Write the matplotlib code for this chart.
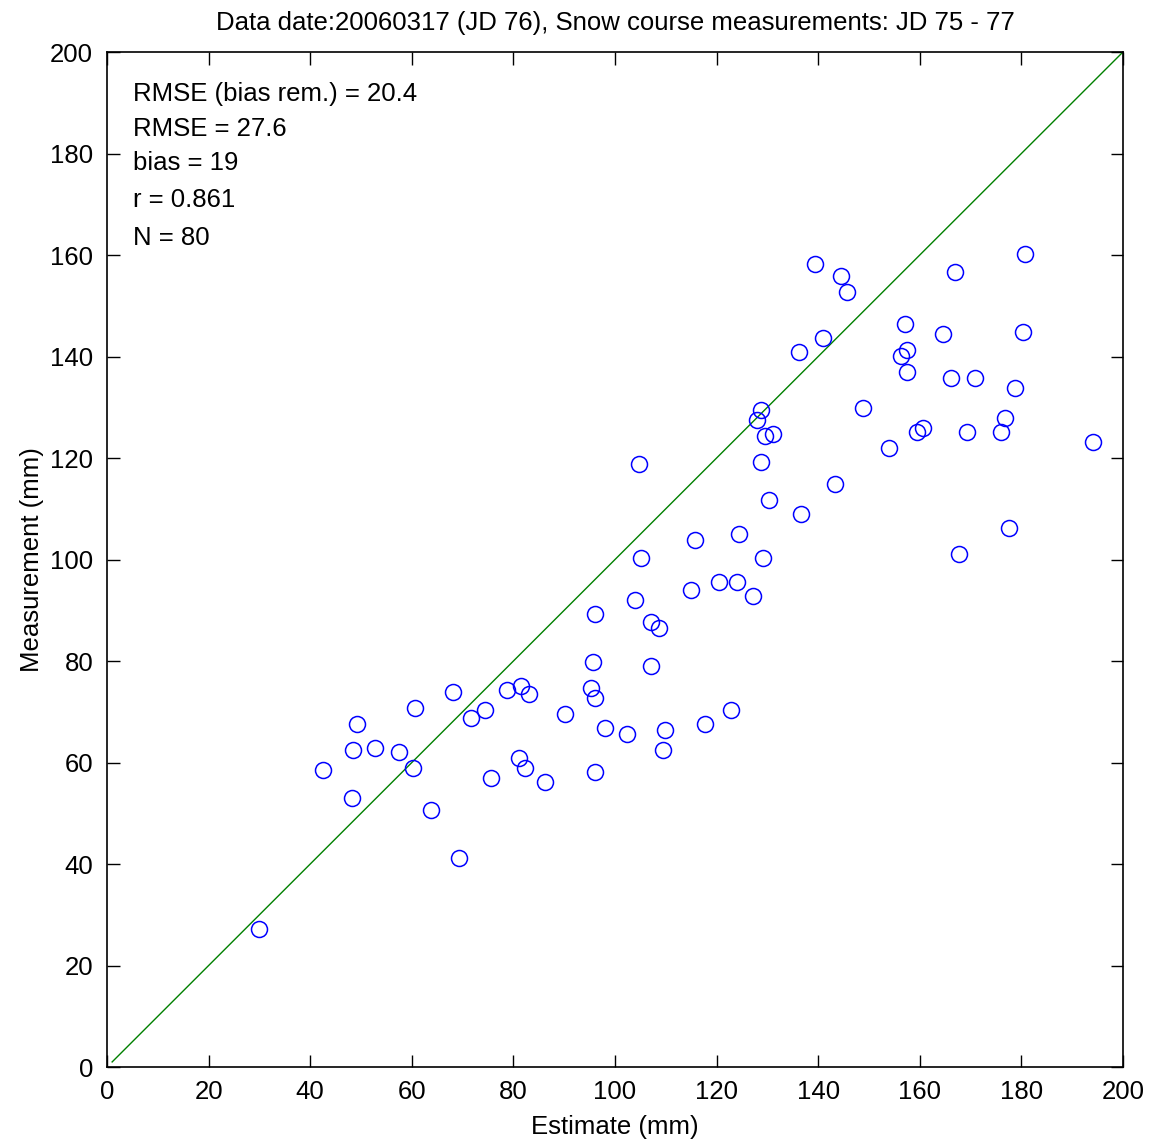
import matplotlib
matplotlib.use("Agg")
import matplotlib.pyplot as plt
import numpy as np

plt.rcParams['font.family'] = ['Liberation Sans', 'DejaVu Sans']

estimate = [29.9, 42.5, 48.2, 48.4, 49.2, 52.8, 57.5, 60.2, 60.6, 63.8,
            68.1, 69.3, 71.7, 74.4, 75.6, 78.7, 81.1, 81.5, 82.3, 83.1,
            86.2, 90.2, 95.3, 95.7, 96.1, 96.1, 96.1, 98.0, 102.4, 103.9,
            104.7, 105.1, 107.1, 107.1, 108.7, 109.4, 109.8, 115.0, 115.7, 117.7,
            120.5, 122.8, 124.0, 124.4, 127.2, 128.0, 128.7, 128.7, 129.1, 129.5,
            130.3, 131.1, 136.2, 136.6, 139.4, 141.0, 143.3, 144.5, 145.7, 148.8,
            153.9, 156.3, 157.1, 157.5, 157.5, 159.4, 160.6, 164.6, 166.1, 166.9,
            167.7, 169.3, 170.9, 176.0, 176.8, 177.6, 178.7, 180.3, 180.7, 194.1]
measurement = [27.2, 58.5, 53.0, 62.5, 67.6, 62.9, 62.1, 58.9, 70.7, 50.6,
               73.9, 41.2, 68.8, 70.3, 56.9, 74.3, 60.9, 75.1, 58.9, 73.5,
               56.2, 69.6, 74.7, 79.8, 72.7, 58.1, 89.3, 66.8, 65.6, 92.0,
               118.8, 100.3, 87.7, 79.0, 86.5, 62.5, 66.4, 94.0, 103.8, 67.6,
               95.6, 70.3, 95.6, 105.0, 92.8, 127.5, 129.5, 119.2, 100.3, 124.3,
               111.7, 124.7, 140.9, 109.0, 158.2, 143.6, 114.9, 155.9, 152.7, 129.9,
               122.0, 140.1, 146.4, 141.3, 136.9, 125.1, 125.9, 144.4, 135.8, 156.7,
               101.1, 125.1, 135.8, 125.1, 127.9, 106.2, 133.8, 144.8, 160.2, 123.2]

stats = ["RMSE (bias rem.) = 20.4", "RMSE = 27.6", "bias = 19", "r = 0.861", "N = 80"]
stats_y = [191.7, 184.8, 178.1, 170.8, 163.4]

fs = 18.5

fig = plt.figure(figsize=(11.61, 11.39), dpi=100)
ax = fig.add_axes([0.0922, 0.0632, 0.8750, 0.8911])

ax.plot([1, 200], [1, 200], color='#008000', lw=1)
ax.plot(estimate, measurement, 'o', mfc='none', mec='blue', ms=11.5, mew=1.1)

for s, yy in zip(stats, stats_y):
    ax.text(5.1, yy, s, fontsize=fs, va='center', ha='left')

ax.set_xlim(0, 200)
ax.set_ylim(0, 200)
ax.set_xticks(np.arange(0, 201, 20))
ax.set_yticks(np.arange(0, 201, 20))
ax.tick_params(direction='in', length=9, width=1, top=True, right=True, labelsize=fs)
ax.tick_params(axis='x', pad=9)
ax.tick_params(axis='y', pad=10)
for sp in ax.spines.values():
    sp.set_linewidth(1.2)

ax.set_xlabel("Estimate (mm)", fontsize=fs, labelpad=8)
ax.set_ylabel("Measurement (mm)", fontsize=fs, labelpad=4)
ax.set_title("Data date:20060317 (JD 76), Snow course measurements: JD 75 - 77", fontsize=fs, pad=16)

fig.savefig("out.png", dpi=100)
